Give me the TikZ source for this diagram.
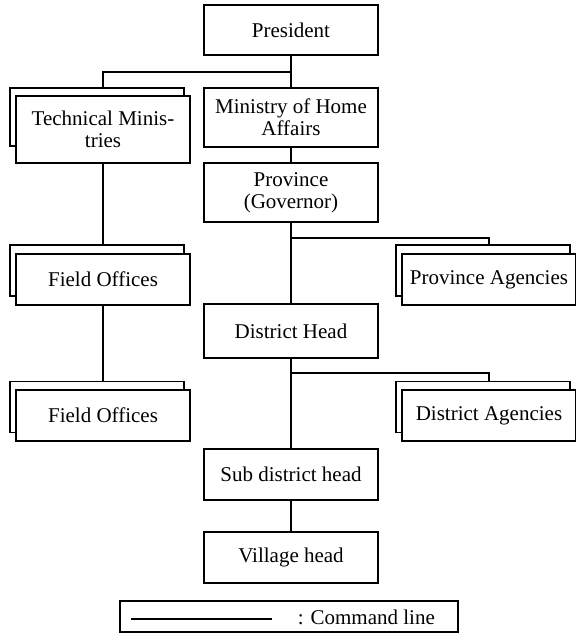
\documentclass[tikz,border=0pt]{standalone}
\usepackage{fontspec}
\setmainfont{Liberation Serif}
\begin{document}
\begin{tikzpicture}[x=0.5pt,y=-0.5pt,font=\fontsize{10.5}{11}\selectfont, line width=0.8pt,
	box/.style={draw,fill=white,align=center,inner sep=0pt,minimum width=87pt},
	backbox/.style={draw,fill=white,inner sep=0pt,minimum width=87pt}]
				\useasboundingbox (0,0) rectangle (576,633);
				% main column
				\node[box,minimum height=25pt] (pres) at (291,30) {President};
				\node[box,minimum height=29.5pt] (mha) at (291,117.5) {Ministry of Home\\Affairs};
				\node[box,minimum height=29.5pt] (prov) at (291,192.5) {Province\\(Governor)};
				\node[box,minimum height=27pt] (dist) at (291,331) {District Head};
				\node[box,minimum height=25.5pt] (sub) at (291,474.5) {Sub district head};
				\node[box,minimum height=25.5pt] (vil) at (291,557.5) {Village head};
				% double boxes
				\node[backbox,minimum height=29pt] (tmback) at (97,117) {};
				\node[box,minimum height=33.5pt] (tm) at (103,129.5) {Technical Minis-\\tries};
				\node[backbox,minimum height=25.5pt] (fo1back) at (97,270.5) {};
				\node[box,minimum height=25.5pt] (fo1) at (103,279.5) {Field Offices};
				\node[backbox,minimum height=25.5pt] (fo2back) at (97,407) {};
				\node[box,minimum height=25.5pt] (fo2) at (103,415.5) {Field Offices};
				\node[backbox,minimum height=25.5pt] (paback) at (483,270.5) {};
				\node[box,minimum height=25.5pt] (pa) at (489,279.5) {Province Agencies};
				\node[backbox,minimum height=25.5pt] (daback) at (483,407) {};
				\node[box,minimum height=25.5pt] (da) at (489,415.5) {District Agencies};
				% command lines
				\coordinate (brpres) at (291,72);
				\coordinate (brprov) at (291,238);
				\coordinate (brdist) at (291,373);
				\draw (pres) -- (mha);
				\draw (brpres) -| (tm.north |- tmback.north);
				\draw (mha) -- (prov);
				\draw (prov) -- (dist);
				\draw (brprov) -| (pa.north |- paback.north);
				\draw (tm.south) -- (tm.south |- fo1back.north);
				\draw (fo1.south) -- (fo1.south |- fo2back.north);
				\draw (dist) -- (sub);
				\draw (brdist) -| (da.north |- daback.north);
				\draw (sub) -- (vil);
				% legend
				\node[draw,minimum width=169pt,minimum height=15.5pt,inner sep=0pt] (legend) at (289,616.5) {};
				\draw ([xshift=6pt,yshift=-1.25pt]legend.west) -- ++(141,0);
				\node[anchor=west,inner sep=0pt] (cmd) at (297,617) {: Command line};
			\end{tikzpicture}
\end{document}
